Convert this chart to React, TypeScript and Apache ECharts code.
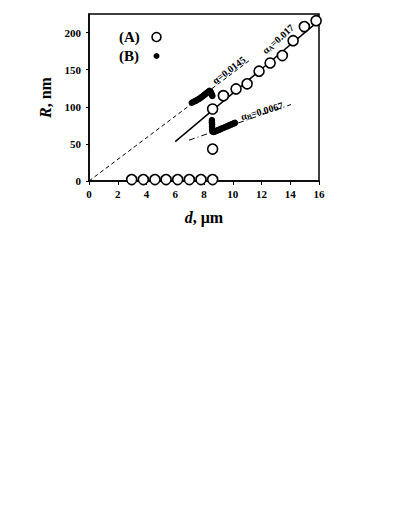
import React, { useEffect, useRef } from "react";
import * as echarts from "echarts";

const xTicks = [0, 2, 4, 6, 8, 10, 12, 14, 16];
const yTicks = [0, 50, 100, 150, 200];

const seriesA: [number, number][] = [
  [2.97, 2], [3.78, 2], [4.59, 2], [5.36, 2], [6.17, 2], [6.98, 2], [7.79, 2], [8.6, 2],
  [8.6, 43], [8.6, 97], [9.35, 115], [10.23, 124], [11.0, 131], [11.83, 148],
  [12.6, 159], [13.45, 169], [14.2, 189], [14.98, 208], [15.8, 216],
];

const seriesB: [number, number][] = [
  [7.15, 105.5], [7.25, 106.5], [7.35, 107.5], [7.45, 108.3], [7.55, 109.5], [7.65, 110.6],
  [7.72, 111.5], [7.8, 112.6], [7.88, 113.8], [7.95, 114.9], [8.02, 116.0], [8.1, 117.2],
  [8.18, 118.4], [8.25, 119.5], [8.32, 120.6], [8.38, 121.5], [8.44, 121.0], [8.48, 119.4],
  [8.52, 117.6], [8.56, 115.8], [8.58, 114.5],
  [8.55, 82], [8.55, 79], [8.56, 76], [8.56, 73], [8.57, 70.5], [8.58, 68], [8.6, 66.5],
  [8.68, 66], [8.78, 66.8], [8.88, 67.6], [8.98, 68.5], [9.08, 69.3], [9.18, 70.2],
  [9.28, 71.0], [9.38, 71.8], [9.48, 72.7], [9.58, 73.5], [9.68, 74.3], [9.78, 75.2],
  [9.88, 76.0], [9.98, 76.9], [10.08, 77.7], [10.15, 78.3],
];

const fitA: [number, number][] = [[6.0, 53], [16.0, 216]];
const fitAll: [number, number][] = [[0, 0], [11.2, 163]];
const fitB: [number, number][] = [[6.96, 55], [14.05, 103]];

const legendLabels = ["(A)", "(B)"];
const annotations = ["α=0.0145", "αA=0.017", "αB=0.0067"];

const SERIF = "'Liberation Serif', 'Times New Roman', serif";

export default function App() {
  const ref = useRef<HTMLDivElement>(null);
  useEffect(() => {
    if (!ref.current) return;
    const chart = echarts.init(ref.current, undefined, { renderer: "svg" });
    const deg = (d: number) => (d * Math.PI) / 180;
    const annStyle = {
      fontFamily: SERIF,
      fontWeight: "bold",
      fontSize: 10,
      fill: "#000",
      align: "center",
      verticalAlign: "middle",
    };
    const rich = {
      a: { fontFamily: SERIF, fontWeight: "bold", fontSize: 10, fill: "#000" },
      s: { fontFamily: SERIF, fontWeight: "bold", fontSize: 7, fill: "#000", padding: [5, 0, 0, 0] },
    };
    chart.setOption({
      animation: false,
      backgroundColor: "#fff",
      grid: {
        left: 89,
        right: 80,
        top: 14,
        bottom: 335,
        show: true,
        borderColor: "#000",
        borderWidth: 1.5,
        backgroundColor: "transparent",
      },
      xAxis: {
        type: "value",
        min: xTicks[0],
        max: xTicks[xTicks.length - 1],
        interval: 2,
        axisLine: { lineStyle: { color: "#000", width: 1.5 } },
        axisTick: { show: true, length: 4, lineStyle: { color: "#000", width: 1 } },
        splitLine: { show: false },
        axisLabel: {
          color: "#000",
          fontFamily: SERIF,
          fontWeight: "bold",
          fontSize: 11,
          margin: 7,
        },
        name: "{i|d}{n|, μm}",
        nameLocation: "middle",
        nameGap: 28,
        nameTextStyle: {
          rich: {
            i: { fontFamily: SERIF, fontStyle: "italic", fontWeight: "bold", fontSize: 16, color: "#000" },
            n: { fontFamily: SERIF, fontWeight: "bold", fontSize: 16, color: "#000" },
          },
        },
      },
      yAxis: {
        type: "value",
        min: 0,
        max: 225,
        interval: 50,
        axisLine: { show: true, lineStyle: { color: "#000", width: 1.5 } },
        axisTick: { show: true, length: 3, lineStyle: { color: "#000", width: 1 } },
        splitLine: { show: false },
        axisLabel: {
          color: "#000",
          fontFamily: SERIF,
          fontWeight: "bold",
          fontSize: 11,
          margin: 8,
          showMaxLabel: false,
          formatter: (v: number) => (yTicks.includes(v) ? String(v) : ""),
        },
        name: "{i|R}{n|, nm}",
        nameLocation: "middle",
        nameRotate: 90,
        nameGap: 28,
        nameTextStyle: {
          rich: {
            i: { fontFamily: SERIF, fontStyle: "italic", fontWeight: "bold", fontSize: 16, color: "#000" },
            n: { fontFamily: SERIF, fontWeight: "bold", fontSize: 16, color: "#000" },
          },
        },
      },
      series: [
        {
          type: "line",
          data: fitAll,
          symbol: "none",
          lineStyle: { color: "#000", width: 1, type: [4, 3] },
          z: 1,
        },
        {
          type: "line",
          data: fitA,
          symbol: "none",
          lineStyle: { color: "#000", width: 1.5 },
          z: 1,
        },
        {
          type: "line",
          data: fitB,
          symbol: "none",
          lineStyle: { color: "#000", width: 1, type: [6, 3, 1, 3] },
          z: 1,
        },
        {
          name: legendLabels[1],
          type: "scatter",
          data: seriesB,
          symbol: "circle",
          symbolSize: 6.5,
          itemStyle: { color: "#000", opacity: 1 },
          z: 2,
        },
        {
          name: legendLabels[0],
          type: "scatter",
          data: seriesA,
          symbol: "circle",
          symbolSize: 10,
          itemStyle: { color: "#fff", borderColor: "#000", borderWidth: 1.6, opacity: 1 },
          z: 3,
        },
      ],
      graphic: [
        {
          type: "text",
          x: 119,
          y: 37,
          style: { text: legendLabels[0], fontFamily: SERIF, fontWeight: "bold", fontSize: 15, fill: "#000", verticalAlign: "middle" },
        },
        {
          type: "circle",
          shape: { cx: 156.5, cy: 37, r: 4.5 },
          style: { fill: "#fff", stroke: "#000", lineWidth: 1.6 },
        },
        {
          type: "text",
          x: 119,
          y: 56,
          style: { text: legendLabels[1], fontFamily: SERIF, fontWeight: "bold", fontSize: 15, fill: "#000", verticalAlign: "middle" },
        },
        {
          type: "circle",
          shape: { cx: 156.5, cy: 56, r: 3 },
          style: { fill: "#000" },
        },
        {
          type: "text",
          x: 229,
          y: 70,
          rotation: deg(37),
          style: { ...annStyle, text: annotations[0] },
        },
        {
          type: "text",
          x: 278,
          y: 39,
          rotation: deg(42),
          style: { ...annStyle, text: "{a|α}{s|A}{a|=0.017}", rich },
        },
        {
          type: "text",
          x: 262,
          y: 111,
          rotation: deg(16),
          style: { ...annStyle, text: "{a|α}{s|B}{a|=0.0067}", rich },
        },
      ],
    });
    return () => chart.dispose();
  }, []);
  return (
    <div
      ref={ref}
      style={{ position: "absolute", left: 0, top: 0, width: 399, height: 516, background: "#fff" }}
    />
  );
}
